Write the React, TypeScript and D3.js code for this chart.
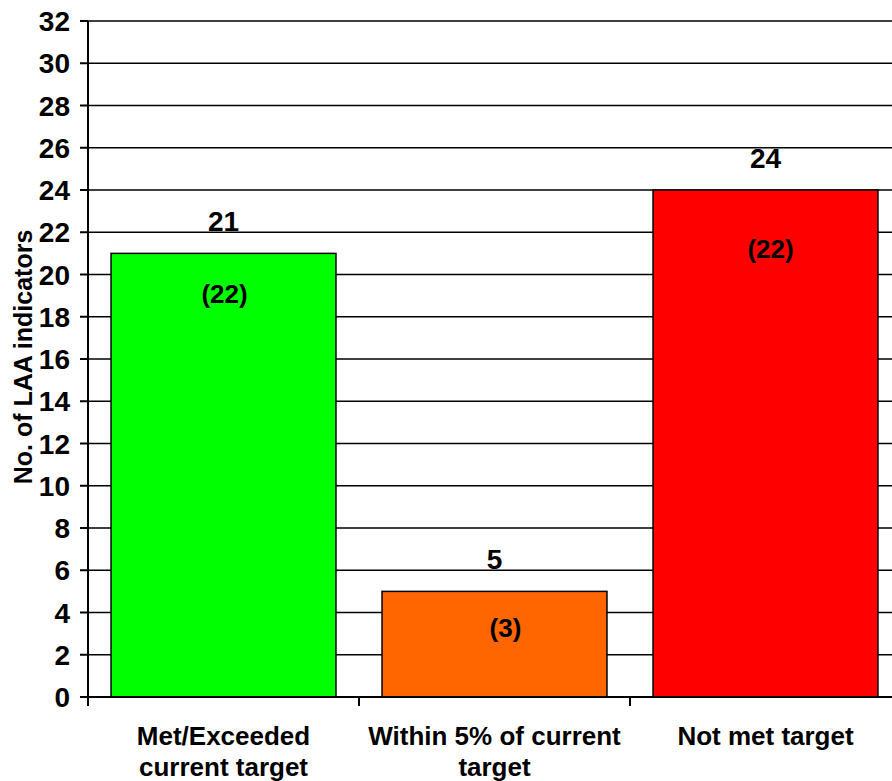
import React from "react";
import * as d3 from "d3";

const categories: string[][] = [
  ["Met/Exceeded", "current target"],
  ["Within 5% of current", "target"],
  ["Not met target"],
];
const values: number[] = [21, 5, 24];
const previousValues: number[] = [22, 3, 22];
const barColors: string[] = ["#00FF00", "#FF6600", "#FF0000"];
const yTicks: number[] = d3.range(0, 33, 2);

// Positions of the bracketed previous-year labels (value units)
const prevLabelAt: number[] = [18.65, 2.84, 20.78];
const prevLabelDx: number[] = [1, 11, 5];

const W = 892;
const H = 781;
const FONT = "'Liberation Sans', Arial, Helvetica, sans-serif";

export default function App() {
  const left = 88;
  const right = 901;
  const top = 21;
  const bottom = 697;

  const keys = categories.map((c) => c.join(" "));
  const x = d3.scaleBand<string>().domain(keys).range([left, right]).padding(0);
  const y = d3.scaleLinear().domain([0, 32]).range([bottom, top]);
  const band = x.bandwidth();
  const inset = band * 0.085;
  const barW = band * 0.83;

  const boundaries = [left, ...keys.map((k) => (x(k) as number) + band)].slice(0, 3);

  return (
    <div style={{ position: "absolute", left: 0, top: 0, width: W, height: H, overflow: "hidden" }}>
      <svg width={W} height={H} style={{ display: "block", background: "#fff" }} fontFamily={FONT}>
        {/* gridlines */}
        {yTicks.map((t) => (
          <line key={"g" + t} x1={left} x2={W} y1={y(t)} y2={y(t)} stroke="#000" strokeWidth={1.5} />
        ))}
        {/* bars */}
        {keys.map((k, i) => (
          <rect
            key={"b" + k}
            x={(x(k) as number) + inset}
            y={y(values[i])}
            width={barW}
            height={y(0) - y(values[i])}
            fill={barColors[i]}
            stroke="#000"
            strokeWidth={1.5}
          />
        ))}
        {/* y axis */}
        <line x1={left} x2={left} y1={top} y2={bottom + 9} stroke="#000" strokeWidth={2} />
        {yTicks.map((t) => (
          <g key={"t" + t}>
            <line x1={left - 8} x2={left} y1={y(t)} y2={y(t)} stroke="#000" strokeWidth={2} />
            <text
              x={70}
              y={y(t)}
              dy="0.36em"
              textAnchor="end"
              fontSize={28}
              fontWeight="bold"
              fill="#000"
            >
              {t}
            </text>
          </g>
        ))}
        {/* x axis */}
        <line x1={left} x2={W} y1={bottom} y2={bottom} stroke="#000" strokeWidth={2} />
        {boundaries.map((b, i) => (
          <line key={"xt" + i} x1={b} x2={b} y1={bottom} y2={bottom + 9} stroke="#000" strokeWidth={2} />
        ))}
        {/* value labels */}
        {keys.map((k, i) => (
          <text
            key={"v" + k}
            x={(x(k) as number) + inset + barW / 2}
            y={y(values[i]) - 22}
            textAnchor="middle"
            fontSize={28}
            fontWeight="bold"
            fill="#000"
          >
            {values[i]}
          </text>
        ))}
        {/* previous values */}
        {keys.map((k, i) => (
          <text
            key={"p" + k}
            x={(x(k) as number) + inset + barW / 2 + prevLabelDx[i]}
            y={y(prevLabelAt[i])}
            textAnchor="middle"
            fontSize={26}
            fontWeight="bold"
            fill="#000"
          >
            {"(" + previousValues[i] + ")"}
          </text>
        ))}
        {/* category labels */}
        {keys.map((k, i) => (
          <text
            key={"c" + k}
            x={(x(k) as number) + band / 2}
            y={745}
            textAnchor="middle"
            fontSize={26}
            fontWeight="bold"
            fill="#000"
          >
            {categories[i].map((line, j) => (
              <tspan key={j} x={(x(k) as number) + band / 2} dy={j === 0 ? 0 : 31}>
                {line}
              </tspan>
            ))}
          </text>
        ))}
        {/* y title */}
        <text
          transform={`translate(32, ${(top + bottom) / 2 - 2}) rotate(-90)`}
          textAnchor="middle"
          fontSize={25}
          fontWeight="bold"
          fill="#000"
        >
          No. of LAA indicators
        </text>
      </svg>
    </div>
  );
}
